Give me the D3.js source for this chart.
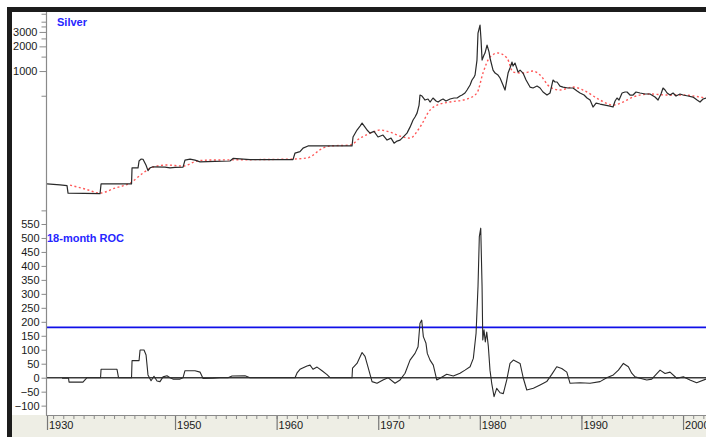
<!DOCTYPE html>
<html>
<head>
<meta charset="utf-8">
<script src="https://cdn.jsdelivr.net/npm/d3@7"></script>
<style>
  html, body { margin: 0; padding: 0; background: #fff; }
  svg { display: block; }
  text { font-family: "Liberation Sans", Arial, sans-serif; }
</style>
</head>
<body>
<svg id="chart" width="706" height="437"></svg>
<script>
// Silver price (cents, log scale) with its moving average, and the 18-month rate of change.
const priceYears = [1937.40,1938.68,1939.37,1939.47,1942.62,1942.72,1945.72,1945.77,1946.36,1946.46,1946.65,1946.85,1947.15,1947.34,1947.54,1947.83,1949.02,1949.51,1950.00,1950.79,1950.98,1951.48,1951.97,1952.46,1953.94,1955.41,1955.71,1957.38,1959.35,1961.61,1961.81,1962.30,1962.60,1963.09,1967.42,1967.52,1967.91,1968.21,1968.41,1968.70,1968.90,1969.19,1969.59,1969.98,1970.47,1970.87,1971.26,1971.56,1971.85,1972.15,1972.54,1972.83,1973.13,1973.43,1973.62,1973.82,1974.02,1974.11,1974.31,1974.61,1974.90,1975.10,1975.39,1975.69,1975.89,1976.18,1976.38,1976.67,1977.07,1977.46,1977.76,1978.05,1978.25,1978.54,1978.74,1979.04,1979.23,1979.43,1979.53,1979.72,1979.82,1980.02,1980.12,1980.22,1980.41,1980.51,1980.71,1980.91,1981.00,1981.30,1981.50,1981.79,1981.99,1982.28,1982.48,1982.78,1982.97,1983.17,1983.27,1983.46,1983.76,1983.96,1984.25,1984.55,1984.94,1985.24,1985.63,1985.93,1986.22,1986.61,1986.91,1987.20,1987.40,1987.60,1987.89,1988.19,1988.68,1989.17,1989.57,1989.86,1990.26,1990.55,1990.85,1991.14,1991.44,1991.83,1992.32,1992.81,1993.11,1993.31,1993.50,1993.70,1994.00,1994.29,1994.49,1994.78,1995.08,1995.37,1995.77,1996.26,1996.75,1997.24,1997.54,1997.83,1998.03,1998.23,1998.43,1998.72,1999.02,1999.31,1999.70,2000.00,2000.49,2000.98,2001.38,2001.67,2001.97,2002.26];
const priceValues = [42,41,40,32.5,32,42,42,66,66,80,84.5,84,71,61,66,68,67.5,66,67,67.5,82,84.5,82,78,79,80,86,83,83,83,100,104,115,122,122,157,191,213,232,207,191,175,184,157,166,144,152,132,140,144,161,175,207,253,275,307,385,510,496,443,456,419,469,431,419,443,456,431,456,469,469,496,510,540,587,675,777,845,894,1362,2904,3639,2388,1362,1566,1659,2075,1705,1442,1028,945,894,822,675,587,945,1088,1288,1151,1253,972,1028,945,777,638,621,656,621,555,510,540,777,735,735,656,638,621,621,571,540,510,469,443,364,407,396,385,374,364,431,469,443,540,555,555,510,510,555,540,525,525,482,443,525,621,587,540,510,540,496,525,510,496,482,443,419,456,469];

const avgYears = [1939.67,1941.14,1942.62,1944.09,1945.57,1946.85,1947.83,1949.21,1950.79,1952.17,1953.15,1957.38,1961.61,1962.99,1964.57,1965.26,1967.22,1968.21,1969.49,1970.18,1971.16,1972.15,1973.13,1974.11,1975.10,1975.79,1977.07,1978.74,1979.72,1980.31,1981.00,1981.79,1982.68,1983.27,1984.25,1985.24,1985.93,1986.91,1987.89,1989.17,1990.16,1991.83,1993.11,1994.09,1995.08,1996.75,1998.43,2000.00,2001.67,2002.26];
const avgValues = [40.7,36.4,32.5,37.4,43,57,67.5,71.4,69.4,80,82,83,84.5,87,115,122,125,152,180,191,180,161,152,207,334,385,419,456,540,945,1482,1659,1442,972,945,1000,894,638,587,638,587,443,385,419,482,525,510,510,482,469];

const rocYears = [1938.88,1939.52,1939.57,1940.94,1941.34,1942.67,1942.72,1944.29,1944.44,1945.72,1945.77,1946.46,1946.56,1946.95,1947.15,1947.34,1947.64,1947.93,1948.23,1948.52,1948.82,1949.21,1949.51,1949.80,1950.49,1950.79,1950.98,1951.97,1952.46,1952.76,1953.74,1954.43,1955.22,1955.61,1956.89,1957.38,1961.81,1962.01,1962.30,1962.99,1963.29,1963.58,1963.98,1964.47,1964.96,1965.26,1967.42,1967.47,1967.91,1968.41,1968.70,1968.99,1969.39,1969.88,1970.47,1970.96,1971.65,1972.15,1972.64,1973.13,1973.62,1973.92,1974.11,1974.28,1974.44,1974.70,1974.83,1975.10,1975.42,1975.76,1976.08,1976.74,1977.39,1978.05,1978.54,1979.04,1979.36,1979.63,1979.82,1979.95,1980.09,1980.22,1980.29,1980.41,1980.54,1980.68,1980.84,1981.00,1981.17,1981.40,1981.66,1981.99,1982.31,1982.65,1982.97,1983.30,1983.63,1983.96,1984.28,1984.62,1985.27,1985.93,1986.58,1987.08,1987.57,1988.06,1988.56,1988.88,1989.86,1990.85,1991.83,1992.49,1993.14,1993.64,1994.13,1994.62,1994.95,1995.28,1995.77,1996.43,1996.92,1997.74,1998.23,1998.72,1999.38,2000.03,2000.68,2001.34,2002.26];
const rocValues = [-2,-2,-16,-16,0,0,30,30,0,0,61,61,99,99,81,10,-11,5,-12,-14,3,7,0,-5,-5,0,25,25,20,-3,-2,0,0,6,7,0,0,17,30,42,45,30,38,25,11,0,0,34,51,90,76,39,-14,-20,-8,0,-20,-8,16,63,87,111,195,206,147,123,87,63,45,-8,-2,12,6,16,27,39,69,159,326,505,535,326,135,171,128,163,111,27,-20,-68,-38,-54,-57,-8,51,63,57,51,-2,-44,-38,-26,-14,12,39,33,20,-20,-18,-20,-14,0,10,27,51,39,16,3,-2,-8,-5,27,15,20,-2,3,-8,-18,-5];

const rocThreshold = 180;

const xMajorYears = [1937.4,1950,1960,1970,1980,1990,2000];
const xMajorLabels = ["1930","1950","1960","1970","1980","1990","2000"];
const xMinorYears = d3.range(1938, 2003);

const priceTickLabels = [1000,2000,3000];
const priceMinorTicks = [20,500,1500,2500,3500,4000,5000];
const rocTicks = [-100,-50,0,50,100,150,200,250,300,350,400,450,500,550];

const W = 706, H = 437;
const plotLeft = 47, plotRight = 706;
const topPanel = {top: 12, bottom: 217};
const botPanel = {top: 217, bottom: 415};

const svg = d3.select("#chart");

// background bands and frame
svg.append("rect").attr("x", 0).attr("y", 0).attr("width", W).attr("height", H).attr("fill", "#fff");
svg.append("rect").attr("x", 12).attr("y", 415).attr("width", W - 12).attr("height", H - 415).attr("fill", "#eeeee5");
svg.append("rect").attr("x", 7).attr("y", 7).attr("width", W - 7).attr("height", 5).attr("fill", "#1c1c1c");
svg.append("rect").attr("x", 7).attr("y", 7).attr("width", 5).attr("height", H - 7).attr("fill", "#1c1c1c");

const x = d3.scaleLinear().domain([1937.4, 2002.26]).range([plotLeft, plotRight]);
const yPrice = d3.scaleLog().domain([16.6, 5250]).range([topPanel.bottom, topPanel.top]);
const yRoc = d3.scaleLinear().domain([-133.5, 575]).range([botPanel.bottom, botPanel.top]);

const defs = svg.append("defs");
defs.append("clipPath").attr("id", "clipTop").append("rect")
  .attr("x", plotLeft).attr("y", topPanel.top).attr("width", plotRight - plotLeft).attr("height", topPanel.bottom - topPanel.top);
defs.append("clipPath").attr("id", "clipBot").append("rect")
  .attr("x", plotLeft).attr("y", botPanel.top).attr("width", plotRight - plotLeft).attr("height", botPanel.bottom - botPanel.top);

// top panel: price and average
const priceData = priceYears.map((t, i) => [t, priceValues[i]]);
const avgData = avgYears.map((t, i) => [t, avgValues[i]]);
const linePrice = d3.line().x(d => x(d[0])).y(d => yPrice(d[1]));
const lineAvg = d3.line().x(d => x(d[0])).y(d => yPrice(d[1])).curve(d3.curveMonotoneX);

const gTop = svg.append("g").attr("clip-path", "url(#clipTop)");
gTop.append("path").datum(avgData).attr("d", lineAvg)
  .attr("fill", "none").attr("stroke", "#ff3b3b").attr("stroke-width", 1.4)
  .attr("stroke-dasharray", "2,2.5").attr("opacity", 0.85);
gTop.append("path").datum(priceData).attr("d", linePrice)
  .attr("fill", "none").attr("stroke", "#2a2a2a").attr("stroke-width", 1.2).attr("stroke-linejoin", "round");

// bottom panel: ROC, zero line, threshold
const rocData = rocYears.map((t, i) => [t, rocValues[i]]);
const lineRoc = d3.line().x(d => x(d[0])).y(d => yRoc(d[1]));
const gBot = svg.append("g").attr("clip-path", "url(#clipBot)");
gBot.append("line").attr("x1", plotLeft).attr("x2", plotRight)
  .attr("y1", yRoc(rocThreshold)).attr("y2", yRoc(rocThreshold))
  .attr("stroke", "#1010e8").attr("stroke-width", 1.6);
gBot.append("line").attr("x1", plotLeft).attr("x2", plotRight)
  .attr("y1", yRoc(0)).attr("y2", yRoc(0))
  .attr("stroke", "#3a3a3a").attr("stroke-width", 1.6);
gBot.append("path").datum(rocData).attr("d", lineRoc)
  .attr("fill", "none").attr("stroke", "#2a2a2a").attr("stroke-width", 1.1).attr("stroke-linejoin", "round");

// left axes
const axisColor = "#8a8a8a";
const gTopAxis = svg.append("g").attr("transform", `translate(${plotLeft - 0.5},0)`);
gTopAxis.call(d3.axisLeft(yPrice).tickValues(priceTickLabels).tickFormat(d3.format("d")).tickSize(7).tickPadding(2));
const gTopMinor = svg.append("g").attr("transform", `translate(${plotLeft - 0.5},0)`);
gTopMinor.call(d3.axisLeft(yPrice).tickValues(priceMinorTicks).tickFormat("").tickSize(5));

const gBotAxis = svg.append("g").attr("transform", `translate(${plotLeft - 0.5},0)`);
gBotAxis.call(d3.axisLeft(yRoc).tickValues(rocTicks).tickFormat(d3.format("d")).tickSize(5).tickPadding(2));

[gTopAxis, gTopMinor, gBotAxis].forEach(g => {
  g.select(".domain").remove();
  g.selectAll(".tick line").attr("stroke", axisColor);
  g.selectAll(".tick text").attr("fill", "#1a1a1a").attr("font-size", 11)
    .attr("font-family", "'Liberation Sans', Arial, sans-serif");
});
svg.append("line").attr("x1", plotLeft - 0.5).attr("x2", plotLeft - 0.5)
  .attr("y1", 12).attr("y2", 415).attr("stroke", axisColor).attr("stroke-width", 1.2);

// bottom time axis
const gX = svg.append("g").attr("transform", `translate(0,${botPanel.bottom})`);
gX.call(d3.axisBottom(x).tickValues(xMinorYears).tickFormat("").tickSize(4));
gX.select(".domain").remove();
gX.selectAll(".tick line").attr("stroke", axisColor);
const gXMajor = svg.append("g").attr("transform", `translate(0,${botPanel.bottom})`);
gXMajor.call(d3.axisBottom(x).tickValues(xMajorYears).tickFormat((d, i) => xMajorLabels[i]).tickSize(15));
gXMajor.select(".domain").remove();
gXMajor.selectAll(".tick line").attr("stroke", "#777").attr("stroke-width", 1.2);
gXMajor.selectAll(".tick text")
  .attr("text-anchor", "start").attr("x", 1.5).attr("y", 6).attr("dy", "0.71em")
  .attr("fill", "#1a1a1a").attr("font-size", 11)
  .attr("font-family", "'Liberation Sans', Arial, sans-serif");
svg.append("line").attr("x1", plotLeft - 1).attr("x2", plotRight)
  .attr("y1", botPanel.bottom + 0.5).attr("y2", botPanel.bottom + 0.5)
  .attr("stroke", axisColor).attr("stroke-width", 1.2);

// panel titles
svg.append("text").attr("x", 57).attr("y", 26).text("Silver")
  .attr("fill", "#2626ff").attr("font-size", 11).attr("font-weight", "bold");
svg.append("text").attr("x", 47).attr("y", 242).text("18-month ROC")
  .attr("fill", "#2626ff").attr("font-size", 11).attr("font-weight", "bold");
</script>
</body>
</html>
